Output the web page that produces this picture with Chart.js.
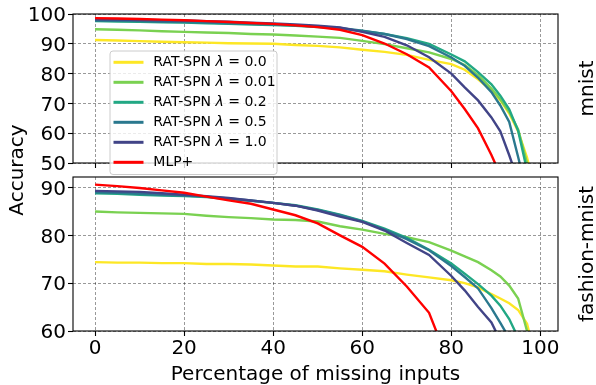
<!DOCTYPE html>
<html><head><meta charset="utf-8">
<script src="https://cdn.jsdelivr.net/npm/chart.js@4/dist/chart.umd.min.js"></script>
<style>
html,body{margin:0;padding:0;background:#fff;}
#wrap{position:relative;width:596px;height:385px;overflow:hidden;}
canvas{position:absolute;left:0;top:0;}
</style></head>
<body><div id="wrap"><canvas id="cBot" width="596" height="385"></canvas><canvas id="cTop" width="596" height="385"></canvas></div>
<script>
// ---- data ----
const missing = [0,5,10,15,20,25,30,35,40,45,50,55,60,65,70,75,80,83,86,89,91,93,95,97,99];
const seriesNames = ['RAT-SPN λ = 0.0','RAT-SPN λ = 0.01','RAT-SPN λ = 0.2','RAT-SPN λ = 0.5','RAT-SPN λ = 1.0','MLP+'];
const seriesColors = ['#fde725','#7ad151','#22a884','#2a788e','#414487','#ff0000'];

const mnistL000 = [91.3,91.1,90.9,90.7,90.5,90.4,90.2,90.1,90.0,89.6,89.3,88.8,88.0,87.3,86.3,84.6,83.2,81.3,78.1,74.3,71.0,66.6,60.6,51.8,40.0];
const mnistL001 = [94.9,94.7,94.5,94.2,94.0,93.8,93.6,93.3,93.1,92.8,92.4,92.0,91.0,89.9,88.5,87.1,84.9,82.9,79.5,75.0,71.4,67.1,61.3,50.0,38.0];
const mnistL02  = [97.6,97.5,97.4,97.2,97.1,96.9,96.7,96.5,96.3,96.0,95.6,95.1,94.3,93.3,91.9,90.0,86.4,84.1,80.5,76.4,72.6,68.0,60.8,47.5,35.0];
const mnistL05  = [97.8,97.7,97.6,97.4,97.3,97.1,96.9,96.7,96.5,96.2,95.8,95.3,94.4,93.3,91.6,89.2,85.4,82.6,78.6,73.8,69.3,63.8,52.0,40.0,28.0];
const mnistL10  = [98.2,98.1,98.0,97.9,97.8,97.6,97.4,97.1,96.8,96.5,96.1,95.5,94.0,92.3,89.5,85.5,80.0,75.4,71.0,65.3,60.6,52.6,44.0,34.0,24.0];
const mnistMLP  = [98.6,98.5,98.3,98.1,97.9,97.6,97.3,97.0,96.7,96.2,95.6,94.7,92.9,90.1,86.5,82.1,74.1,68.1,61.6,52.7,46.0,38.0,30.0,22.0,15.0];

const fashionL000 = [74.4,74.3,74.3,74.2,74.2,74.0,74.0,73.9,73.7,73.5,73.5,73.1,72.8,72.5,71.8,71.2,70.6,70.0,69.1,67.7,66.8,65.8,64.4,61.5,54.0];
const fashionL001 = [85.0,84.8,84.7,84.6,84.5,84.1,83.8,83.6,83.3,83.2,82.9,81.9,81.2,80.3,79.6,78.6,76.8,75.6,74.4,72.7,71.4,69.5,66.8,60.0,48.0];
const fashionL02  = [88.8,88.7,88.5,88.3,88.2,88.0,87.6,87.2,86.8,86.3,85.4,84.3,83.0,81.4,79.5,77.0,74.1,72.0,69.8,67.4,65.3,62.5,58.6,50.0,42.0];
const fashionL05  = [89.0,88.9,88.7,88.5,88.3,88.1,87.7,87.3,86.8,86.2,85.3,84.2,82.9,81.2,79.2,76.9,73.6,71.3,68.9,64.8,61.7,58.5,52.0,45.0,38.0];
const fashionL10  = [89.3,89.2,89.1,88.8,88.5,88.2,87.8,87.3,86.8,86.2,85.2,83.9,82.8,81.0,78.4,75.9,71.5,68.5,65.0,61.8,58.0,53.0,47.0,40.0,33.0];
const fashionMLP  = [90.6,90.3,89.9,89.4,88.9,88.1,87.3,86.6,85.4,84.2,82.5,80.0,77.6,74.1,69.3,63.8,52.0,46.0,40.0,34.0,30.0,26.0,22.0,18.0,15.0];

const xTicks = [0,20,40,60,80,100];
const mnistYTicks = [50,60,70,80,90,100];
const fashionYTicks = [60,70,80,90];

const xLabel = 'Percentage of missing inputs';
const yLabel = 'Accuracy';
const panelNames = ['mnist','fashion-mnist'];

// ---- helpers ----
const FONT = '"DejaVu Sans", "Liberation Sans", sans-serif';
const W = 596, H = 385;
const AREA_L = 73, AREA_R = 558;

function makeDatasets(arrs) {
  return arrs.map((vals, i) => ({
    label: seriesNames[i],
    data: missing.map((x, j) => ({x: x, y: vals[j]})),
    borderColor: seriesColors[i],
    backgroundColor: seriesColors[i],
    borderWidth: 2.4,
    pointRadius: 0,
    tension: 0,
    fill: false,
    clip: 0,
    order: arrs.length - 1 - i
  }));
}

const framePlugin = {
  id: 'frame',
  afterDatasetsDraw(chart) {
    const {ctx, chartArea: a} = chart;
    ctx.save();
    ctx.strokeStyle = '#000';
    ctx.lineWidth = 1.1;
    ctx.strokeRect(a.left, a.top, a.right - a.left, a.bottom - a.top);
    ctx.restore();
  }
};

const textPlugin = {
  id: 'sideText',
  afterDraw(chart, args, opts) {
    const {ctx, chartArea: a} = chart;
    ctx.save();
    ctx.fillStyle = '#000';
    ctx.font = '20px ' + FONT;
    ctx.textAlign = 'center';
    ctx.textBaseline = 'alphabetic';
    ctx.translate(a.right + 35, (a.top + a.bottom) / 2);
    ctx.rotate(-Math.PI / 2);
    ctx.fillText(opts.text, 0, 0);
    ctx.restore();
    if (opts.ylabel) {
      ctx.save();
      ctx.fillStyle = '#000';
      ctx.font = '20px ' + FONT;
      ctx.textAlign = 'center';
      ctx.textBaseline = 'alphabetic';
      ctx.translate(23, 170);
      ctx.rotate(-Math.PI / 2);
      ctx.fillText(opts.ylabel, 0, 0);
      ctx.restore();
    }
  }
};

const legendPlugin = {
  id: 'mplLegend',
  afterDraw(chart, args, opts) {
    if (!opts.show) return;
    const {ctx, chartArea: a} = chart;
    const x0 = a.left + 37, y0 = a.top + 37, w = 167, h = 123.5, r = 3;
    ctx.save();
    ctx.beginPath();
    ctx.moveTo(x0 + r, y0);
    ctx.lineTo(x0 + w - r, y0); ctx.arcTo(x0 + w, y0, x0 + w, y0 + r, r);
    ctx.lineTo(x0 + w, y0 + h - r); ctx.arcTo(x0 + w, y0 + h, x0 + w - r, y0 + h, r);
    ctx.lineTo(x0 + r, y0 + h); ctx.arcTo(x0, y0 + h, x0, y0 + h - r, r);
    ctx.lineTo(x0, y0 + r); ctx.arcTo(x0, y0, x0 + r, y0, r);
    ctx.closePath();
    ctx.fillStyle = 'rgba(255,255,255,0.8)';
    ctx.fill();
    ctx.strokeStyle = '#cccccc';
    ctx.lineWidth = 1;
    ctx.stroke();
    const fs = 14;
    chart.data.datasets.forEach((ds, i) => {
      const y = y0 + 11.3 + i * 20;
      ctx.beginPath();
      ctx.moveTo(x0 + 3.5, y);
      ctx.lineTo(x0 + 33.5, y);
      ctx.strokeStyle = ds.borderColor;
      ctx.lineWidth = 3;
      ctx.stroke();
      ctx.fillStyle = '#000';
      ctx.textBaseline = 'middle';
      ctx.textAlign = 'left';
      let tx = x0 + 43.3;
      const parts = ds.label.split('λ');
      ctx.font = fs + 'px ' + FONT;
      ctx.fillText(parts[0], tx, y);
      if (parts.length > 1) {
        tx += ctx.measureText(parts[0]).width;
        ctx.font = 'italic ' + fs + 'px ' + FONT;
        ctx.fillText('λ', tx, y);
        tx += ctx.measureText('λ').width;
        ctx.font = fs + 'px ' + FONT;
        ctx.fillText(parts[1], tx, y);
      }
    });
    ctx.restore();
  }
};

function gridOpts() {
  return {
    color: 'rgba(0,0,0,0.5)',
    lineWidth: 0.8,
    drawTicks: true,
    tickLength: 5,
    tickColor: '#000',
    tickWidth: 1.1,
    tickBorderDash: []
  };
}

function makeChart(canvasId, arrs, yMin, yMax, yTicks, isTop) {
  const areaTop = isTop ? 10 : 177;
  const areaBottom = isTop ? 163 : 331;
  return new Chart(document.getElementById(canvasId), {
    type: 'line',
    data: { datasets: makeDatasets(arrs) },
    plugins: [framePlugin, textPlugin, legendPlugin],
    options: {
      responsive: false,
      animation: false,
      devicePixelRatio: 1,
      layout: { padding: { top: areaTop, right: W - AREA_R, left: 0, bottom: 0 } },
      plugins: {
        legend: { display: false },
        tooltip: { enabled: false },
        sideText: { text: isTop ? panelNames[0] : panelNames[1], ylabel: isTop ? null : yLabel },
        mplLegend: { show: isTop }
      },
      scales: {
        x: {
          type: 'linear',
          min: -4.95,
          max: 103.95,
          afterBuildTicks: s => { s.ticks = xTicks.map(v => ({value: v})); },
          afterFit: s => { s.height = H - areaBottom; },
          grid: gridOpts(),
          border: { display: false, dash: [3, 2] },
          ticks: {
            display: !isTop,
            color: '#000',
            padding: 1,
            font: { family: FONT, size: 20 }
          },
          title: {
            display: !isTop,
            text: xLabel,
            color: '#000',
            padding: 0,
            font: { family: FONT, size: 20, lineHeight: 1.05 }
          }
        },
        y: {
          type: 'linear',
          min: yMin,
          max: yMax,
          afterBuildTicks: s => { s.ticks = yTicks.map(v => ({value: v})); },
          afterFit: s => { s.width = AREA_L; },
          grid: gridOpts(),
          border: { display: false, dash: [3, 2] },
          ticks: {
            color: '#000',
            padding: 2,
            labelOffset: 2,
            font: { family: FONT, size: 20 }
          }
        }
      }
    }
  });
}

makeChart('cBot', [fashionL000, fashionL001, fashionL02, fashionL05, fashionL10, fashionMLP], 60, 92.2, fashionYTicks, false);
makeChart('cTop', [mnistL000, mnistL001, mnistL02, mnistL05, mnistL10, mnistMLP], 50, 100, mnistYTicks, true);
</script>
</body></html>
